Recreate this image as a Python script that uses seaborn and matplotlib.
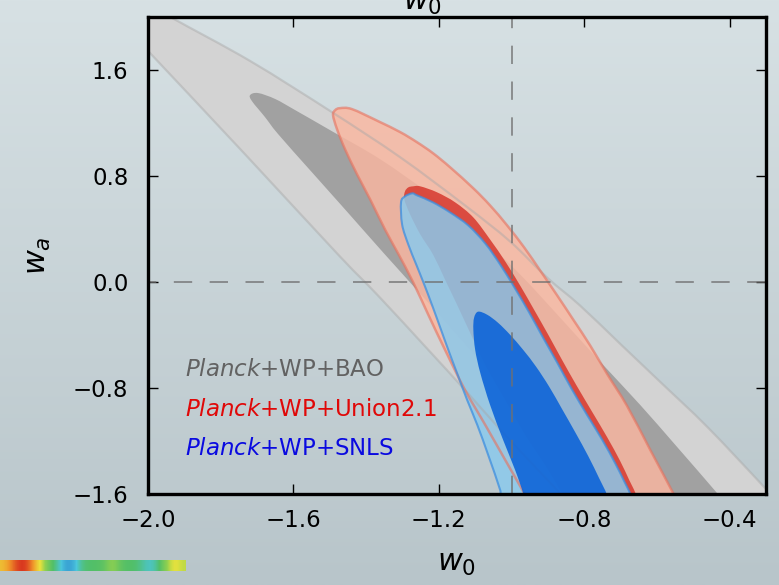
import numpy as np
import matplotlib
matplotlib.use("Agg")
import matplotlib.pyplot as plt
from matplotlib.colors import LinearSegmentedColormap
from matplotlib.ticker import FixedLocator, FuncFormatter
from matplotlib.path import Path
from matplotlib.patches import PathPatch
import seaborn as sns

# ---------------------------------------------------------------------------
# Joint constraints on the dark-energy equation of state (w0, wa).
# Each region is a closed contour traced in (w0, wa); bands that leave the
# plotted window are continued a little outside it and clipped by the axes.
# ---------------------------------------------------------------------------

# Planck+WP+BAO, 95% region
bao95_w0 = [-2.077, -1.939, -1.719, -1.494, -1.306, -1.128, -1.004, -0.902,
            -0.811, -0.701, -0.591, -0.461, -0.302, -0.205,
            -0.811, -0.866, -1.012, -1.128, -1.229, -1.367, -1.477, -1.733,
            -2.000, -2.050]
bao95_wa = [2.221, 2.001, 1.668, 1.282, 0.941, 0.578, 0.306, 0.033,
            -0.179, -0.467, -0.754, -1.095, -1.557, -1.852,
            -1.761, -1.595, -1.171, -0.815, -0.512, -0.103, 0.207, 0.964,
            1.744, 1.888]

# Planck+WP+BAO, 68% region
bao68_w0 = [-1.719, -1.697, -1.650, -1.595, -1.494, -1.361, -1.224, -1.100,
            -0.976, -0.866, -0.748, -0.646, -0.549, -0.434, -0.384,
            -0.756, -0.811, -0.894, -1.004, -1.114, -1.224, -1.348, -1.458,
            -1.549, -1.642, -1.678, -1.714]
bao68_wa = [1.411, 1.426, 1.381, 1.297, 1.138, 0.926, 0.661, 0.381,
            0.056, -0.270, -0.626, -0.928, -1.231, -1.595, -1.761,
            -1.723, -1.534, -1.193, -0.853, -0.512, -0.171, 0.207, 0.548,
            0.828, 1.116, 1.244, 1.365]

# Planck+WP+Union2.1, 95% region
union95_w0 = [-1.491, -1.485, -1.472, -1.439, -1.367, -1.306, -1.260, -1.216,
              -1.169, -1.105, -1.059, -1.012, -0.965, -0.921, -0.874, -0.830,
              -0.783, -0.737, -0.682, -0.618, -0.555, -0.530,
              -0.940, -0.965, -1.017, -1.072, -1.128, -1.183, -1.229, -1.271,
              -1.312, -1.348, -1.389, -1.425, -1.458, -1.480]
union95_wa = [1.259, 1.297, 1.312, 1.305, 1.214, 1.131, 1.055, 0.972,
              0.866, 0.707, 0.578, 0.427, 0.260, 0.086, -0.103, -0.285,
              -0.482, -0.694, -0.936, -1.269, -1.595, -1.738,
              -1.723, -1.595, -1.345, -1.080, -0.815, -0.512, -0.247, 0.000,
              0.215, 0.396, 0.624, 0.813, 1.002, 1.153]

# Planck+WP+Union2.1, 68% region
union68_w0 = [-1.293, -1.284, -1.271, -1.251, -1.205, -1.155, -1.105, -1.059,
              -1.017, -0.976, -0.938, -0.899, -0.861, -0.822, -0.778, -0.737,
              -0.701, -0.676, -0.654, -0.643,
              -0.838, -0.861, -0.907, -0.962, -1.017, -1.072, -1.114, -1.150,
              -1.183, -1.216, -1.251, -1.279, -1.295]
union68_wa = [0.684, 0.714, 0.722, 0.722, 0.677, 0.601, 0.487, 0.321,
              0.154, -0.028, -0.209, -0.398, -0.588, -0.777, -0.981, -1.171,
              -1.352, -1.496, -1.625, -1.738,
              -1.723, -1.595, -1.383, -1.155, -0.891, -0.626, -0.383, -0.171,
              0.018, 0.207, 0.359, 0.510, 0.624]

# Planck+WP+SNLS, 95% region
snls95_w0 = [-1.304, -1.293, -1.273, -1.260, -1.216, -1.169, -1.119, -1.072,
             -1.031, -0.990, -0.951, -0.913, -0.874, -0.836, -0.792, -0.750,
             -0.715, -0.690, -0.668, -0.657,
             -1.015, -1.031, -1.064, -1.094, -1.122, -1.147, -1.172, -1.196,
             -1.218, -1.240, -1.262, -1.284, -1.301]
snls95_wa = [0.601, 0.646, 0.669, 0.654, 0.601, 0.525, 0.427, 0.290,
             0.131, -0.050, -0.232, -0.421, -0.610, -0.800, -1.004, -1.193,
             -1.367, -1.504, -1.632, -1.738,
             -1.738, -1.572, -1.307, -1.080, -0.891, -0.709, -0.527, -0.345,
             -0.179, -0.020, 0.131, 0.283, 0.434]

# Planck+WP+SNLS, 68% region
snls68_w0 = [-1.092, -1.067, -1.037, -1.004, -0.968, -0.932, -0.896, -0.861,
             -0.825, -0.789, -0.759, -0.737, -0.723,
             -0.957, -0.968, -0.990, -1.023, -1.059, -1.086, -1.100, -1.105,
             -1.103]
snls68_wa = [-0.224, -0.247, -0.308, -0.398, -0.512, -0.641, -0.792, -0.959,
             -1.133, -1.314, -1.481, -1.610, -1.761,
             -1.723, -1.595, -1.420, -1.193, -0.928, -0.686, -0.512, -0.361,
             -0.270]

# Cosmological-constant reference point
lcdm_w0 = -1.0
lcdm_wa = 0.0

# Axis layout
x_ticks = [-2.0, -1.6, -1.2, -0.8, -0.4]
y_ticks = [-1.6, -0.8, 0.0, 0.8, 1.6]
x_range = (-2.0, -0.3)
y_range = (-1.6, 2.0)

legend_labels = [r"$\mathit{Planck}$+WP+BAO",
                 r"$\mathit{Planck}$+WP+Union2.1",
                 r"$\mathit{Planck}$+WP+SNLS"]
legend_colors = ["#626262", "#e00808", "#0a0ae0"]

# Decorative colour strip in the footer
strip_values = [0.78, 0.88, 1.00, 0.98, 0.80, 0.68, 0.45, 0.30, 0.05, 0.10,
                0.35, 0.40, 0.40, 0.45, 0.62, 0.45, 0.40, 0.40, 0.30, 0.22,
                0.38, 0.60, 0.74, 0.66]


def contour_path(xs, ys):
    """Closed smooth Bezier path passing through the traced contour vertices."""
    pts = np.column_stack([xs, ys]).astype(float)
    n = len(pts)
    verts = [pts[0]]
    codes = [Path.MOVETO]
    for i in range(n):
        p0, p1 = pts[(i - 1) % n], pts[i]
        p2, p3 = pts[(i + 1) % n], pts[(i + 2) % n]
        verts += [p1 + (p2 - p0) / 6.0, p2 - (p3 - p1) / 6.0, p2]
        codes += [Path.CURVE4] * 3
    verts.append(pts[0])
    codes.append(Path.CLOSEPOLY)
    return Path(np.array(verts), codes)


def region(ax, xs, ys, z, face=None, alpha=1.0, edge=None, edge_alpha=1.0,
           lw=0.0, edge_z=None):
    path = contour_path(xs, ys)
    if face is not None:
        ax.add_patch(PathPatch(path, facecolor=face, edgecolor="none",
                               alpha=alpha, zorder=z))
    if edge is not None:
        ax.add_patch(PathPatch(path, facecolor="none", edgecolor=edge,
                               alpha=edge_alpha, lw=lw,
                               zorder=edge_z if edge_z is not None else z))


# ---------------------------------------------------------------------------
sns.set_theme(style="ticks")
plt.rcParams["font.family"] = ["DejaVu Sans"]
plt.rcParams["mathtext.fontset"] = "dejavusans"
plt.rcParams["axes.unicode_minus"] = True

W, H = 779, 585
fig = plt.figure(figsize=(W / 100, H / 100), dpi=100)

# slide-style vertical gradient behind everything
bg = fig.add_axes([0, 0, 1, 1], zorder=-10)
bg_cmap = LinearSegmentedColormap.from_list("bg", ["#d7e1e4", "#b8c5ca"])
bg.imshow(np.linspace(0, 1, 256)[:, None], cmap=bg_cmap, aspect="auto",
          extent=[0, 1, 0, 1], origin="upper")
bg.set_axis_off()

ax = fig.add_axes([148 / W, 1 - 494 / H, 618 / W, 477 / H], zorder=1)
ax.set_facecolor("none")

# filled regions, back to front; outer outlines sit above the light fills
region(ax, bao95_w0, bao95_wa, 1, face="#d3d3d3",
       edge="#a8a8a8", edge_alpha=0.45, lw=1.6, edge_z=5.5)
region(ax, bao68_w0, bao68_wa, 2, face="#a1a1a1")
region(ax, union95_w0, union95_wa, 3, face="#fbb7a0", alpha=0.82,
       edge="#e8705c", edge_alpha=0.6, lw=1.8, edge_z=5.6)
region(ax, union68_w0, union68_wa, 4, face="#d9453a", alpha=0.95)
region(ax, snls95_w0, snls95_wa, 5, face="#8bc9ec", alpha=0.85,
       edge="#3d8fe0", edge_alpha=0.75, lw=1.5, edge_z=5.7)
region(ax, snls68_w0, snls68_wa, 6, face="#0a62d8", alpha=0.88)

# LCDM reference lines
ax.axvline(lcdm_w0, color="#707070", lw=1.2, alpha=0.85,
           linestyle=(0, (11, 10.5)), zorder=7)
ax.axhline(lcdm_wa, color="#707070", lw=1.2, alpha=0.85,
           linestyle=(6, (11, 10.5)), zorder=7)

ax.set_xlim(*x_range)
ax.set_ylim(*y_range)
ax.xaxis.set_major_locator(FixedLocator(x_ticks))
ax.yaxis.set_major_locator(FixedLocator(y_ticks))
fmt = FuncFormatter(lambda v, _: f"{v:.1f}".replace("-", "\u2212"))
ax.xaxis.set_major_formatter(fmt)
ax.yaxis.set_major_formatter(fmt)
ax.minorticks_off()
ax.tick_params(direction="in", length=7.5, width=1.0, color="black",
               top=True, right=True, labelsize=16.5, labelcolor="black")
ax.tick_params(axis="x", pad=11)
ax.tick_params(axis="y", pad=14)
for sp in ax.spines.values():
    sp.set_visible(True)
    sp.set_linewidth(2.4)
    sp.set_color("black")
    sp.set_zorder(10)
ax.set_xlabel("")
ax.set_ylabel(r"$w_a$", fontsize=22, color="black")
ax.yaxis.set_label_coords(-0.154, 0.5)

fig.text(457 / W, 1 - 563 / H, r"$w_0$", fontsize=22, ha="center",
         va="center", color="black")
fig.text(423 / W, 1 - 10 / H, r"$w_0$", fontsize=22, ha="center",
         va="baseline", color="black")

legend_y = [0.2474, 0.1635, 0.0818]
for lab, col, yy in zip(legend_labels, legend_colors, legend_y):
    ax.text(0.060, yy, lab, transform=ax.transAxes, fontsize=16.5,
            color=col, ha="left", va="baseline", zorder=11)

# footer strip
strip_cmap = LinearSegmentedColormap.from_list(
    "strip", [(0.0, "#2f8fcf"), (0.2, "#4cc6dc"), (0.4, "#52bf68"),
              (0.6, "#8fd050"), (0.72, "#ece33c"), (0.85, "#f0952a"),
              (1.0, "#d8321f")])
sax = fig.add_axes([0, 1 - 571 / H, 186 / W, 11 / H], zorder=2)
sax.imshow(np.array(strip_values)[None, :], cmap=strip_cmap, vmin=0, vmax=1,
           aspect="auto", interpolation="bicubic")
sax.set_axis_off()

fig.savefig("out.png", dpi=100)
